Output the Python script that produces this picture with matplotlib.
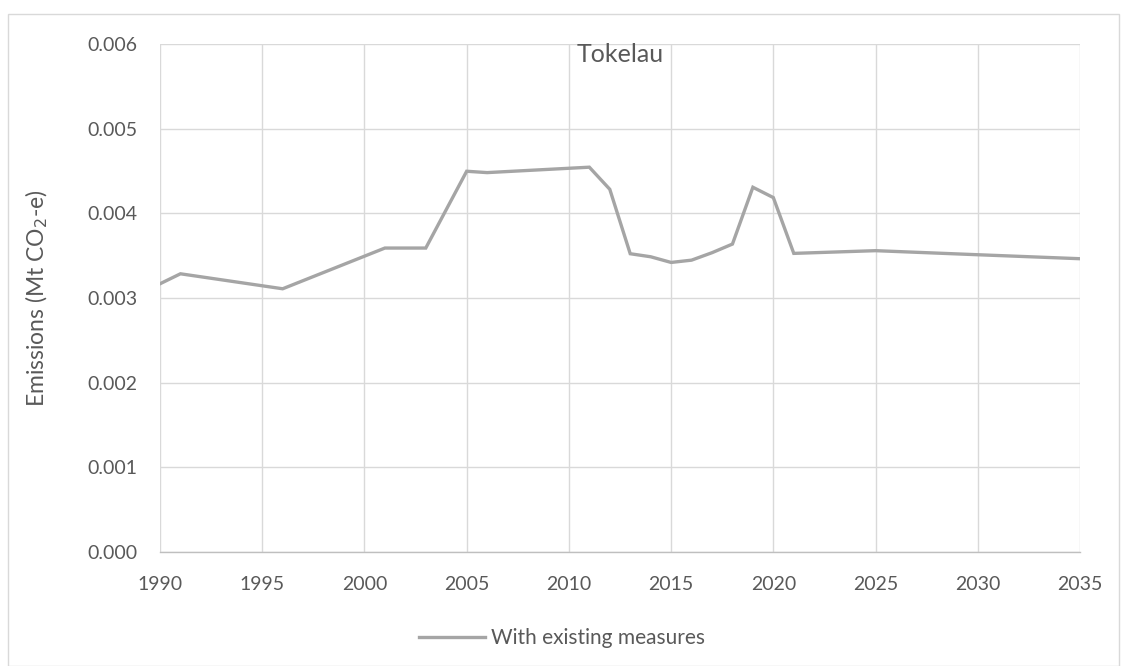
import matplotlib
matplotlib.use("Agg")
import matplotlib.pyplot as plt
from matplotlib.patches import Rectangle

years = [1990, 1991, 1996, 2001, 2003, 2005, 2006, 2011, 2012, 2013, 2014, 2015,
         2016, 2017, 2018, 2019, 2020, 2021, 2025, 2030, 2035]
wem = [0.003168, 0.003286, 0.003109, 0.003590, 0.003590, 0.004497, 0.004481,
       0.004545, 0.004284, 0.003523, 0.003487, 0.003420, 0.003447, 0.003535,
       0.003637, 0.004308, 0.004186, 0.003527, 0.003559, 0.003511, 0.003464]
xticks = [1990, 1995, 2000, 2005, 2010, 2015, 2020, 2025, 2030, 2035]
yticks = [0.000, 0.001, 0.002, 0.003, 0.004, 0.005, 0.006]

plt.rcParams['font.family'] = ['Lato', 'DejaVu Sans']
txt = '#595959'

W, H = 1124, 666
fig = plt.figure(figsize=(W/100, H/100), dpi=100)
fig.patches.append(Rectangle((8/W, 0), (W-8-5)/W, (H-14)/H, transform=fig.transFigure,
                             fill=False, edgecolor='#d9d9d9', linewidth=1.0))
ax = fig.add_axes([160/W, 1-552/H, (1080-160)/W, (552-44)/H])
ax.plot(years, wem, color='#a5a5a5', linewidth=2.4, label='With existing measures',
        solid_joinstyle='miter')
ax.set_xlim(1990, 2035)
ax.set_ylim(0, 0.006)
ax.set_xticks(xticks)
ax.set_yticks(yticks)
ax.set_yticklabels([f'{v:.3f}' for v in yticks])
ax.grid(True, color='#d9d9d9', linewidth=1.0)
ax.set_axisbelow(True)
for s in ['top', 'right', 'left']:
    ax.spines[s].set_visible(False)
ax.spines['bottom'].set_color('#bfbfbf')
ax.spines['bottom'].set_linewidth(1.0)
ax.tick_params(length=0, labelsize=14, colors=txt)
ax.tick_params(axis='y', pad=16)
ax.tick_params(axis='x', pad=17)
ax.set_ylabel('Emissions (Mt CO$_2$-e)', fontsize=16.5, color=txt)
ax.yaxis.set_label_coords(-(160-50)/920, 0.5)
ax.text(0.5, (552-62)/508, 'Tokelau', transform=ax.transAxes, ha='center', va='baseline',
        fontsize=18, color=txt)
leg = fig.legend(loc='center', bbox_to_anchor=(0.5, 1-638/H), frameon=False,
                 fontsize=15, labelcolor=txt, handlelength=3.2, handletextpad=0.3)
fig.savefig('out.png', dpi=100)
